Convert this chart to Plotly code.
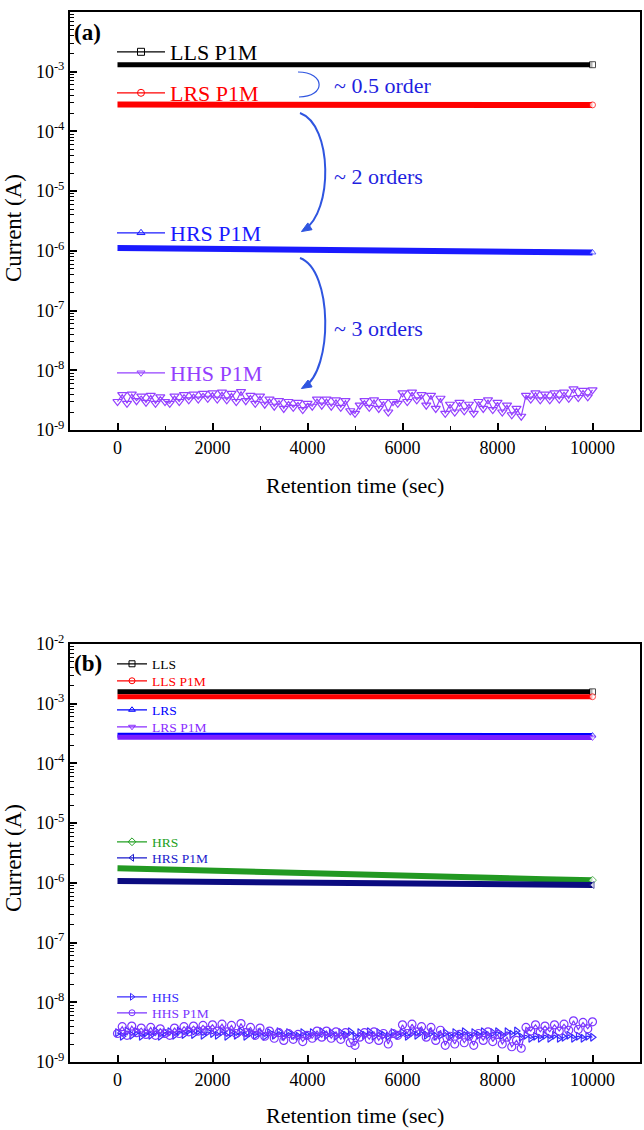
import plotly.graph_objects as go

W, H = 644, 1130
FONT = "Liberation Serif"

# ---------------- data ----------------
t_flat = [0, 1000, 2000, 3000, 4000, 5000, 6000, 7000, 8000, 9000, 10000]
t_noisy = [0, 100, 200, 300, 400, 500, 600, 700, 800, 900,
           1000, 1100, 1200, 1300, 1400, 1500, 1600, 1700, 1800, 1900,
           2000, 2100, 2200, 2300, 2400, 2500, 2600, 2700, 2800, 2900,
           3000, 3100, 3200, 3300, 3400, 3500, 3600, 3700, 3800, 3900,
           4000, 4100, 4200, 4300, 4400, 4500, 4600, 4700, 4800, 4900,
           5000, 5100, 5200, 5300, 5400, 5500, 5600, 5700, 5800, 5900,
           6000, 6100, 6200, 6300, 6400, 6500, 6600, 6700, 6800, 6900,
           7000, 7100, 7200, 7300, 7400, 7500, 7600, 7700, 7800, 7900,
           8000, 8100, 8200, 8300, 8400, 8500, 8600, 8700, 8800, 8900,
           9000, 9100, 9200, 9300, 9400, 9500, 9600, 9700, 9800, 9900,
           10000]

# panel (a)
a_lls_p1m = [1.31e-3, 1.31e-3, 1.31e-3, 1.31e-3, 1.31e-3, 1.31e-3, 1.31e-3, 1.31e-3, 1.31e-3, 1.31e-3, 1.31e-3]
a_lrs_p1m = [2.82e-4, 2.80e-4, 2.81e-4, 2.79e-4, 2.80e-4, 2.79e-4, 2.80e-4, 2.78e-4, 2.79e-4, 2.78e-4, 2.78e-4]
a_hrs_p1m = [1.12e-6, 1.10e-6, 1.08e-6, 1.06e-6, 1.04e-6, 1.02e-6, 1.00e-6, 0.98e-6, 0.97e-6, 0.95e-6, 0.94e-6]
hhs_p1m_n = [3.0, 3.9, 2.8, 4.0, 3.1, 3.7, 2.9, 3.8, 2.8, 3.6,
             3.0, 2.8, 3.7, 3.0, 3.9, 3.2, 4.0, 3.3, 4.1, 3.4,
             4.2, 3.3, 4.3, 3.2, 4.1, 3.0, 4.4, 3.1, 3.8, 2.8,
             3.7, 2.7, 3.3, 2.5, 3.1, 2.3, 3.0, 2.4, 2.9, 2.2,
             2.8, 2.5, 3.3, 2.6, 3.3, 2.5, 3.2, 2.4, 3.1, 2.1,
             1.9, 2.6, 3.1, 2.4, 3.2, 2.3, 3.0, 2.0, 3.0, 2.8,
             4.2, 3.0, 4.3, 3.2, 3.9, 2.6, 3.8, 2.3, 3.4, 1.9,
             2.7, 2.0, 2.9, 2.1, 2.7, 1.9, 3.0, 2.3, 3.2, 2.2,
             2.9, 2.0, 2.6, 1.8, 2.3, 1.7, 3.8, 3.3, 4.2, 3.2,
             4.0, 3.2, 4.2, 3.3, 4.3, 3.4, 4.9, 3.5, 4.6, 3.6,
             4.7]
hhs_p1m = [v * 1e-9 for v in hhs_p1m_n]

# panel (b)
b_lls = [1.58e-3, 1.58e-3, 1.58e-3, 1.58e-3, 1.58e-3, 1.58e-3, 1.58e-3, 1.58e-3, 1.58e-3, 1.58e-3, 1.58e-3]
b_lls_p1m = [1.31e-3, 1.31e-3, 1.31e-3, 1.31e-3, 1.31e-3, 1.31e-3, 1.31e-3, 1.31e-3, 1.31e-3, 1.31e-3, 1.31e-3]
b_lrs = [2.96e-4, 2.95e-4, 2.95e-4, 2.94e-4, 2.95e-4, 2.94e-4, 2.94e-4, 2.93e-4, 2.94e-4, 2.93e-4, 2.93e-4]
b_lrs_p1m = [2.74e-4, 2.73e-4, 2.74e-4, 2.72e-4, 2.73e-4, 2.72e-4, 2.72e-4, 2.71e-4, 2.72e-4, 2.71e-4, 2.71e-4]
b_hrs = [1.75e-6, 1.66e-6, 1.58e-6, 1.51e-6, 1.44e-6, 1.37e-6, 1.30e-6, 1.24e-6, 1.19e-6, 1.15e-6, 1.11e-6]
b_hrs_p1m = [1.07e-6, 1.05e-6, 1.03e-6, 1.02e-6, 1.00e-6, 0.99e-6, 0.97e-6, 0.96e-6, 0.94e-6, 0.93e-6, 0.92e-6]
hhs_n = [3.1, 2.7, 3.3, 2.8, 3.2, 2.7, 3.1, 2.8, 3.3, 2.7,
         3.1, 3.2, 2.8, 3.3, 2.9, 3.4, 2.9, 3.3, 2.8, 3.2,
         3.0, 2.8, 3.2, 2.7, 3.1, 2.8, 3.2, 2.7, 3.1, 2.8,
         3.1, 2.7, 3.1, 2.8, 3.2, 2.7, 3.1, 2.8, 2.7, 3.1,
         2.8, 3.1, 2.7, 3.2, 2.8, 3.1, 2.7, 3.1, 2.8, 3.2,
         2.7, 3.1, 2.8, 3.2, 2.7, 3.1, 2.8, 2.7, 3.1, 2.8,
         3.1, 2.7, 3.1, 2.8, 3.2, 2.8, 3.1, 2.7, 2.8, 3.1,
         2.7, 3.1, 2.8, 3.2, 2.7, 3.1, 2.8, 3.2, 2.8, 3.1,
         3.2, 2.8, 3.2, 2.9, 3.3, 2.6, 2.8, 2.5, 2.7, 2.5,
         2.8, 2.5, 2.8, 2.5, 2.6, 2.8, 2.5, 2.7, 2.5, 2.7,
         2.6]
hhs = [v * 1e-9 for v in hhs_n]

ytick_vals = [1e-9, 1e-8, 1e-7, 1e-6, 1e-5, 1e-4, 1e-3, 1e-2]
ytick_text = ["10<sup>-9</sup>", "10<sup>-8</sup>", "10<sup>-7</sup>", "10<sup>-6</sup>",
              "10<sup>-5</sup>", "10<sup>-4</sup>", "10<sup>-3</sup>", "10<sup>-2</sup>"]
xtick_vals = [0, 2000, 4000, 6000, 8000, 10000]
xtick_text = ["0", "2000", "4000", "6000", "8000", "10000"]

# ---------------- helpers ----------------
def endmarks(n, size):
    return [0] * (n - 1) + [size]


fig = go.Figure()


def flat_trace(x, y, color, symbol, xa, ya, width=6):
    n = len(x)
    fig.add_trace(go.Scatter(
        x=x, y=y, mode="lines+markers", showlegend=False, xaxis=xa, yaxis=ya,
        line=dict(color=color, width=width),
        marker=dict(symbol=symbol, size=endmarks(n, 6), color="white",
                    line=dict(color=color, width=endmarks(n, 1)))))


def noisy_trace(x, y, color, symbol, xa, ya, size=8):
    fig.add_trace(go.Scatter(
        x=x, y=y, mode="lines+markers", showlegend=False, xaxis=xa, yaxis=ya,
        line=dict(color=color, width=1.2),
        marker=dict(symbol=symbol, size=size, color=color, line=dict(color=color, width=1.2))))


def legend_entry(name, color, symbol, leg, xa, ya, msize=7):
    fig.add_trace(go.Scatter(
        x=[None], y=[None], mode="lines+markers", name=name, legend=leg,
        xaxis=xa, yaxis=ya, line=dict(color=color, width=1.3),
        marker=dict(symbol=symbol, size=msize, color=color, line=dict(width=1, color=color))))


# panel (a) data
flat_trace(t_flat, a_lls_p1m, "#000000", "square", "x", "y", 5)
flat_trace(t_flat, a_lrs_p1m, "#ff0000", "circle", "x", "y", 6)
flat_trace(t_flat, a_hrs_p1m, "#1a1aff", "triangle-up", "x", "y", 6)
noisy_trace(t_noisy, hhs_p1m, "#9440ff", "triangle-down-open", "x", "y", 8)

# panel (b) data
flat_trace(t_flat, b_lls, "#000000", "square", "x2", "y2", 5)
flat_trace(t_flat, b_lls_p1m, "#ff0000", "circle", "x2", "y2", 5)
flat_trace(t_flat, b_lrs, "#0000ff", "triangle-up", "x2", "y2", 5)
flat_trace(t_flat, b_lrs_p1m, "#7b1fff", "triangle-down", "x2", "y2", 5)
flat_trace(t_flat, b_hrs, "#229922", "diamond", "x2", "y2", 6)
flat_trace(t_flat, b_hrs_p1m, "#0b0b80", "triangle-left", "x2", "y2", 6)
noisy_trace(t_noisy, hhs, "#3a2aff", "triangle-right-open", "x2", "y2", 7)
noisy_trace(t_noisy, hhs_p1m, "#7b35ff", "circle-open", "x2", "y2", 8)

# legends
legends = {}
LX = 112
top_items = [("LLS P1M", 52, "#000000", "square-open"),
             ("LRS P1M", 93, "#ff0000", "circle-open"),
             ("HRS P1M", 233, "#1a1aff", "triangle-up-open"),
             ("HHS P1M", 373, "#9440ff", "triangle-down-open")]
bot_items = [("LLS", 664, "#000000", "square-open", "#000000"),
             ("LLS P1M", 681, "#ff0000", "circle-open", "#ff0000"),
             ("LRS", 710, "#0000ff", "triangle-up-open", "#0000ff"),
             ("LRS P1M", 727, "#8a2cff", "triangle-down-open", "#8a2cff"),
             ("HRS", 842, "#22a022", "diamond-open", "#22a022"),
             ("HRS P1M", 858, "#1a1acc", "triangle-left-open", "#1a1acc"),
             ("HHS", 997, "#3a2aff", "triangle-right-open", "#3a2aff"),
             ("HHS P1M", 1013, "#7b35ff", "circle-open", "#7b35ff")]

k = 0
for name, ypx, col, sym in top_items:
    k += 1
    key = "legend" if k == 1 else f"legend{k}"
    legend_entry(name, col, sym, key, "x", "y", 7)
    legends[key] = dict(x=LX / W, y=1 - ypx / H, xanchor="left", yanchor="middle",
                        bgcolor="rgba(0,0,0,0)", borderwidth=0, itemwidth=48,
                        font=dict(family=FONT, size=22, color=col))
for name, ypx, col, sym, tcol in bot_items:
    k += 1
    key = f"legend{k}"
    legend_entry(name, col, sym, key, "x2", "y2", 6)
    legends[key] = dict(x=LX / W, y=1 - ypx / H, xanchor="left", yanchor="middle",
                        bgcolor="rgba(0,0,0,0)", borderwidth=0, itemwidth=30,
                        font=dict(family=FONT, size=13.5, color=tcol))

# ---------------- axes ----------------
xdom = [70 / W, 640 / W]
top_dom = [1 - 430 / H, 1 - 12 / H]
bot_dom = [1 - 1062 / H, 1 - 644 / H]

ymin = [m * 10 ** e for e in range(-9, -2) for m in range(2, 10)]


def xaxis(dom, anchor):
    return dict(domain=dom, anchor=anchor, range=[-1000, 11000], showgrid=False, zeroline=False,
                showline=True, linecolor="black", linewidth=2, mirror=True,
                tickmode="array", tickvals=xtick_vals, ticktext=xtick_text,
                ticks="inside", ticklen=7, tickwidth=1.5, tickcolor="black",
                minor=dict(tickmode="array", tickvals=[1000, 3000, 5000, 7000, 9000],
                           ticks="inside", ticklen=4, tickwidth=1.2, tickcolor="black"),
                tickfont=dict(family=FONT, size=18, color="black"), automargin=False)


def yaxis(dom, anchor):
    return dict(domain=dom, anchor=anchor, type="log", range=[-9, -2], showgrid=False, zeroline=False,
                showline=True, linecolor="black", linewidth=2, mirror=True,
                tickmode="array", tickvals=ytick_vals, ticktext=ytick_text,
                ticks="inside", ticklen=7, tickwidth=1.5, tickcolor="black",
                minor=dict(tickmode="array", tickvals=ymin, ticks="inside", ticklen=4,
                           tickwidth=1, tickcolor="black"),
                tickfont=dict(family=FONT, size=18, color="black"), automargin=False)


# ---------------- annotations & arrows ----------------
def pp(x, y):
    return f"{x / W:.5f},{1 - y / H:.5f}"


BLUE_T = "#1f1fe0"
BLUE_A = "#2f55e0"

annotations = []
for txt, xpx, ypx in [("~ 0.5 order", 332, 86), ("~ 2 orders", 332, 176), ("~ 3 orders", 332, 328)]:
    annotations.append(dict(text=txt, x=xpx / W, y=1 - ypx / H, xref="paper", yref="paper",
                            xanchor="left", yanchor="middle", showarrow=False,
                            font=dict(family=FONT, size=22, color=BLUE_T)))
for txt, ypx in [("(a)", 33), ("(b)", 663)]:
    annotations.append(dict(text=f"<b>{txt}</b>", x=72 / W, y=1 - ypx / H, xref="paper", yref="paper",
                            xanchor="left", yanchor="middle", showarrow=False,
                            font=dict(family=FONT, size=23, color="black")))
for ypx in [485, 1115]:
    annotations.append(dict(text="Retention time (sec)", x=355 / W, y=1 - ypx / H, xref="paper",
                            yref="paper", xanchor="center", yanchor="middle", showarrow=False,
                            font=dict(family=FONT, size=22, color="black")))
for ypx in [228, 858]:
    annotations.append(dict(text="Current (A)", x=13 / W, y=1 - ypx / H, xref="paper",
                            yref="paper", xanchor="center", yanchor="middle", showarrow=False,
                            textangle=-90, font=dict(family=FONT, size=23, color="black")))

shapes = []
arcs = [((298, 72), (326, 72), (326, 97), (299, 97), 1.2, False),
        ((300, 113), (333, 125), (333, 212), (304, 230), 2, True),
        ((300, 258), (333, 270), (333, 370), (304, 387), 2, True)]
for p0, c1, c2, p3, w, head in arcs:
    shapes.append(dict(type="path", xref="paper", yref="paper",
                       path=f"M{pp(*p0)} C{pp(*c1)} {pp(*c2)} {pp(*p3)}",
                       line=dict(color=BLUE_A, width=w)))
    if head:
        dx, dy = p3[0] - c2[0], p3[1] - c2[1]
        n = (dx * dx + dy * dy) ** 0.5
        ux, uy = dx / n, dy / n
        tip = (p3[0] + 3 * ux, p3[1] + 3 * uy)
        base = (tip[0] - 10 * ux, tip[1] - 10 * uy)
        px_, py_ = -uy * 4, ux * 4
        b1 = (base[0] + px_, base[1] + py_)
        b2 = (base[0] - px_, base[1] - py_)
        shapes.append(dict(type="path", xref="paper", yref="paper",
                           path=f"M{pp(*tip)} L{pp(*b1)} L{pp(*b2)} Z",
                           fillcolor=BLUE_A, line=dict(color=BLUE_A, width=1)))

fig.update_layout(
    template="none",
    width=W, height=H,
    margin=dict(l=0, r=0, t=0, b=0),
    paper_bgcolor="white", plot_bgcolor="white",
    font=dict(family=FONT, color="black"),
    xaxis=xaxis(xdom, "y"), yaxis=yaxis(top_dom, "x"),
    xaxis2=xaxis(xdom, "y2"), yaxis2=yaxis(bot_dom, "x2"),
    annotations=annotations, shapes=shapes,
    **legends,
)

fig.write_html("out.html", config={"displayModeBar": False},
               post_script="document.body.style.margin='0px';document.body.style.overflow='hidden';")
